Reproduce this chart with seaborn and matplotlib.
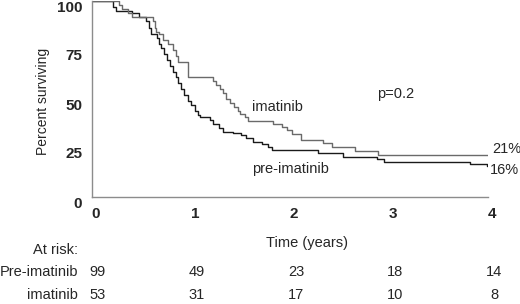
import matplotlib
matplotlib.use("Agg")
import matplotlib.pyplot as plt
import matplotlib.transforms as mtransforms
import pandas as pd
import seaborn as sns

# Kaplan-Meier steps (years, percent surviving)
years_pre = [0, 0.21, 0.24, 0.40, 0.47, 0.55, 0.58, 0.60, 0.66, 0.68, 0.70, 0.73,
             0.76, 0.79, 0.82, 0.85, 0.87, 0.90, 0.93, 0.97, 1.00, 1.04, 1.07,
             1.09, 1.19, 1.22, 1.28, 1.32, 1.42, 1.50, 1.56, 1.63, 1.72, 1.78,
             1.82, 2.28, 2.54, 2.88, 2.95, 3.82, 3.99, 4.0]
surv_pre = [100, 97, 95, 94, 92, 90, 86, 83, 81, 78, 76, 73,
            70, 67, 64, 61, 58, 55, 52, 49, 47, 44, 42,
            41, 39.5, 37.5, 35, 33, 32.5, 31.5, 30, 28, 27, 25.5,
            24, 22.3, 20.5, 19.3, 18, 17, 15.7, 15.7]

years_ima = [0, 0.27, 0.30, 0.36, 0.40, 0.62, 0.64, 0.65, 0.68, 0.72, 0.77, 0.82,
             0.85, 0.87, 0.97, 1.22, 1.25, 1.29, 1.32, 1.35, 1.39, 1.43, 1.47,
             1.49, 1.55, 1.58, 1.83, 1.92, 1.97, 2.02, 2.11, 2.33, 2.42, 2.66,
             2.89, 4.0]
surv_ima = [100, 98, 96, 94, 92, 90, 86, 84, 83, 80, 78, 75,
            72, 69, 61, 59, 57, 55, 53, 50, 48, 46, 44,
            42.5, 41, 39, 37.4, 35.5, 34, 32.3, 29, 27.3, 25.5, 23.5,
            21.5, 21.5]

risk_years = [0, 1, 2, 3, 4]
at_risk_pre = [99, 49, 23, 18, 14]
at_risk_ima = [53, 31, 17, 10, 8]

sns.set_style("white")
plt.rcParams["font.family"] = ["Liberation Sans", "DejaVu Sans"]

km = pd.concat([
    pd.DataFrame({"years": years_pre, "surv": surv_pre, "group": "pre-imatinib"}),
    pd.DataFrame({"years": years_ima, "surv": surv_ima, "group": "imatinib"}),
])

W, H = 520, 304


def fpos(x, y):
    # pixel position -> figure fraction
    return x / W, 1 - y / H


fig = plt.figure(figsize=(W / 100, H / 100), dpi=100)
ax = fig.add_axes([92 / W, 1 - 197 / H, 396 / W, 196 / H])

sns.lineplot(data=km, x="years", y="surv", hue="group",
             palette={"pre-imatinib": "#1a1a1a", "imatinib": "#6a6a6a"},
             estimator=None, sort=False, drawstyle="steps-post",
             linewidth=1.0, legend=False, ax=ax)

ax.set_xlim(0, 4)
ax.set_ylim(0, 100)
ax.set_xticks(risk_years)
ax.set_yticks([0, 25, 50, 75, 100])
ax.set_xlabel("")
ax.set_ylabel("")
sns.despine(ax=ax)
for side in ["left", "bottom"]:
    ax.spines[side].set_color("#8c8c8c")
    ax.spines[side].set_linewidth(1.0)
ax.tick_params(direction="out", length=3, width=1, color="#8c8c8c",
               labelsize=11, pad=4)
for lab in ax.get_xticklabels() + ax.get_yticklabels():
    lab.set_fontweight("bold")

# labels in the original sit a bit off their ticks
dx = mtransforms.ScaledTranslation(0.04, 0, fig.dpi_scale_trans)
dy = mtransforms.ScaledTranslation(0, -0.05, fig.dpi_scale_trans)
for lab in ax.get_xticklabels():
    lab.set_transform(lab.get_transform() + dx)
for lab in ax.get_yticklabels():
    lab.set_transform(lab.get_transform() + dy)

txt = dict(fontsize=10.5, va="center", clip_on=False)
ax.text(1.62, 45.7, "imatinib", ha="left", **txt)
ax.text(1.62, 14.2, "pre-imatinib", ha="left", **txt)
ax.text(2.88, 52.8, "p=0.2", ha="left", **txt)
ax.text(4.04, 24.4, "21%", ha="left", **txt)
ax.text(4.02, 13.7, "16%", ha="left", **txt)

fig.text(*fpos(43, 101), "Percent surviving", rotation=90,
         ha="center", va="center", fontsize=10)
fig.text(*fpos(307, 243), "Time (years)", ha="center", va="center", fontsize=10.5)

# at-risk table
fig.text(*fpos(78, 250), "At risk:", ha="right", va="center", fontsize=10.5)
fig.text(*fpos(78, 272), "Pre-imatinib", ha="right", va="center", fontsize=10.5)
fig.text(*fpos(78, 295), "imatinib", ha="right", va="center", fontsize=10.5)
for yr, n_pre, n_ima in zip(risk_years, at_risk_pre, at_risk_ima):
    xp = ax.transData.transform((yr, 0))[0] / fig.dpi * 100 + 6
    fig.text(*fpos(xp, 272), str(n_pre), ha="center", va="center", fontsize=10.5)
    fig.text(*fpos(xp, 295), str(n_ima), ha="center", va="center", fontsize=10.5)

fig.savefig("out.png", dpi=100)
